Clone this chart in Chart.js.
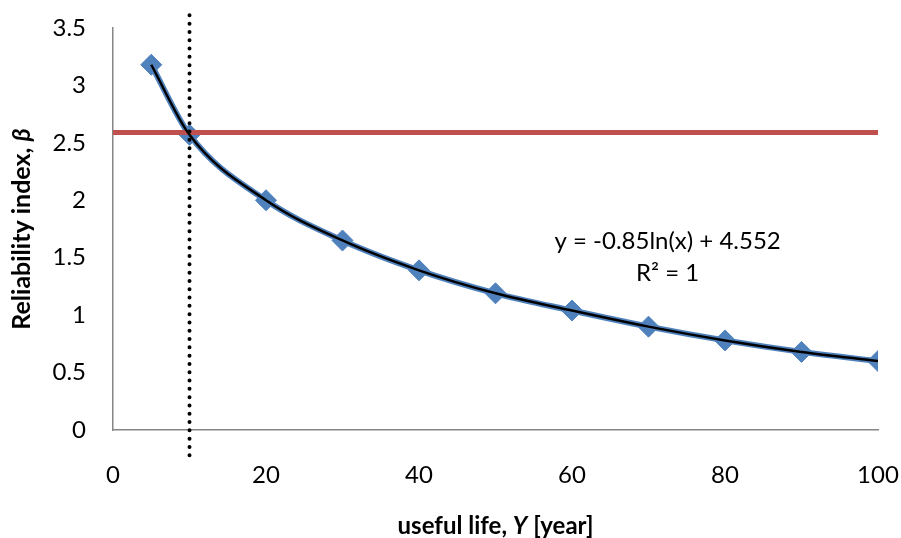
<!DOCTYPE html>
<html>
<head>
<meta charset="utf-8">
<script src="https://cdn.jsdelivr.net/npm/chart.js@4/dist/chart.umd.min.js"></script>
<style>
  html, body { margin: 0; padding: 0; background: #fff; }
  #wrap { width: 901px; height: 538px; }
</style>
</head>
<body>
<div id="wrap"><canvas id="chart" width="901" height="538"></canvas></div>
<script>
// Data
const usefulLife = [5, 10, 20, 30, 40, 50, 60, 70, 80, 90, 100];
const betaValues = [3.18, 2.57, 2.0, 1.65, 1.39, 1.19, 1.04, 0.9, 0.78, 0.68, 0.6];
const targetBeta = 2.59;
const targetRange = [0, 100];
const markerLife = 10;
const markerRange = [-0.22, 3.62];
const xTicks = [0, 20, 40, 60, 80, 100];
const yTicks = [0, 0.5, 1, 1.5, 2, 2.5, 3, 3.5];
const equationLines = ["y = -0.85ln(x) + 4.552", "R² = 1"];

const FONT = "Lato, 'Liberation Sans', sans-serif";
const ctx = document.getElementById("chart").getContext("2d");

const points = usefulLife.map((x, i) => ({ x: x, y: betaValues[i] }));

// mixed-style axis titles + equation label
const titlesPlugin = {
  id: "titles",
  afterDraw(chart) {
    const c = chart.ctx;
    const area = chart.chartArea;

    function drawParts(parts, cx, cy) {
      let total = 0;
      parts.forEach(p => { c.font = p[1]; total += c.measureText(p[0]).width; });
      let x = cx - total / 2;
      parts.forEach(p => {
        c.font = p[1];
        c.fillText(p[0], x, cy);
        x += c.measureText(p[0]).width;
      });
    }

    c.save();
    c.fillStyle = "#000";
    c.textBaseline = "middle";
    c.textAlign = "left";
    drawParts([["useful life, ", "bold 24px " + FONT], ["Y", "italic bold 24px " + FONT],
      [" [year]", "bold 24px " + FONT]], (area.left + area.right) / 2, 526);

    c.translate(22, (area.top + area.bottom) / 2);
    c.rotate(-Math.PI / 2);
    drawParts([["Reliability index, ", "bold 25px " + FONT], ["β", "italic bold 25px " + FONT]], 0, 0);
    c.restore();

    c.save();
    c.fillStyle = "#000";
    c.font = "24px " + FONT;
    c.textAlign = "center";
    c.textBaseline = "middle";
    const ex = chart.scales.x.getPixelForValue(72.5);
    c.fillText(equationLines[0], ex, 241);
    c.fillText(equationLines[1], ex, 273);
    c.restore();
  }
};

new Chart(ctx, {
  type: "scatter",
  data: {
    datasets: [
      {
        label: "marker",
        data: markerRange.map(y => ({ x: markerLife, y: y })),
        showLine: true,
        borderColor: "#000",
        borderWidth: 4,
        borderDash: [0, 8.3],
        borderCapStyle: "round",
        pointRadius: 0,
        clip: false
      },
      {
        label: "trend",
        data: points,
        showLine: true,
        borderColor: "#000",
        borderWidth: 2.5,
        cubicInterpolationMode: "monotone",
        pointRadius: 0
      },
      {
        label: "target",
        data: targetRange.map(x => ({ x: x, y: targetBeta })),
        showLine: true,
        borderColor: "#C0504D",
        borderWidth: 5,
        pointRadius: 0
      },
      {
        label: "beta",
        data: points,
        showLine: true,
        borderColor: "#4F81BD",
        borderWidth: 6,
        cubicInterpolationMode: "monotone",
        pointStyle: "rectRot",
        pointRadius: 10.5,
        pointBackgroundColor: "#4F81BD",
        pointBorderColor: "#4F81BD",
        pointBorderWidth: 1
      }
    ]
  },
  options: {
    responsive: false,
    animation: false,
    layout: { padding: { top: 28, right: 23, left: 0, bottom: 0 } },
    plugins: {
      legend: { display: false },
      tooltip: { enabled: false }
    },
    scales: {
      x: {
        type: "linear",
        min: 0,
        max: 100,
        afterBuildTicks: axis => { axis.ticks = xTicks.map(v => ({ value: v })); },
        afterFit: axis => {
          axis.height = 108;
          axis.paddingLeft = 0;
          axis.paddingRight = 0;
        },
        grid: { display: false, drawTicks: false },
        border: { color: "#868686", width: 1.5 },
        ticks: {
          padding: 31,
          color: "#000",
          font: { family: FONT, size: 24 },
          maxRotation: 0
        }
      },
      y: {
        min: 0,
        max: 3.5,
        afterBuildTicks: axis => { axis.ticks = yTicks.map(v => ({ value: v })); },
        afterFit: axis => {
          axis.width = 113;
          axis.paddingTop = 0;
          axis.paddingBottom = 0;
        },
        grid: { display: false, drawTicks: false },
        border: { color: "#868686", width: 1.5 },
        ticks: {
          padding: 27,
          color: "#000",
          font: { family: FONT, size: 24 },
          callback: v => String(v)
        }
      }
    }
  },
  plugins: [titlesPlugin]
});
</script>
</body>
</html>
